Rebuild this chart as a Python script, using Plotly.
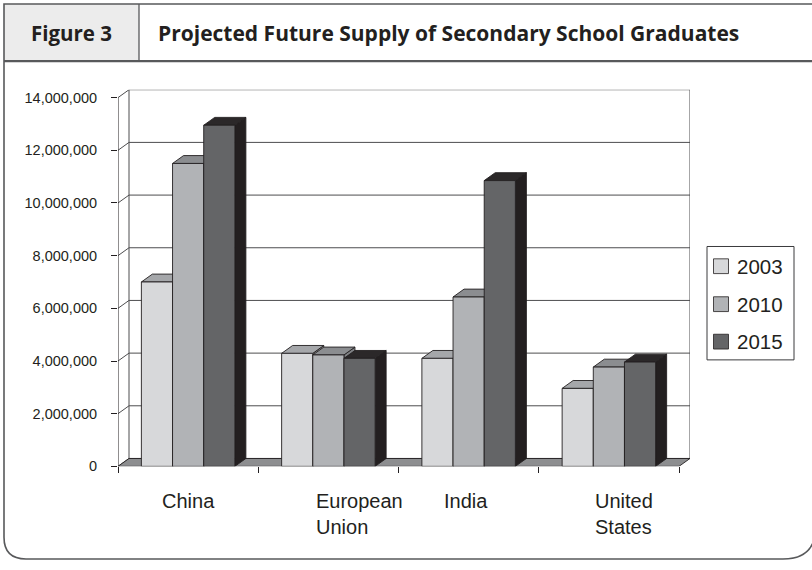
import plotly.graph_objects as go

# ---- data -------------------------------------------------------------
categories = ["China", "European Union", "India", "United States"]
category_labels = ["China", "European<br>Union", "India", "United<br>States"]
years = ["2003", "2010", "2015"]
graduates_2003 = [7_000_000, 4_290_000, 4_100_000, 2_960_000]
graduates_2010 = [11_500_000, 4_230_000, 6_430_000, 3_770_000]
graduates_2015 = [12_950_000, 4_100_000, 10_850_000, 3_960_000]
y_ticks = list(range(0, 14_000_001, 2_000_000))

series = [graduates_2003, graduates_2010, graduates_2015]

# ---- styling ----------------------------------------------------------
front_colors = ["#d7d8da", "#b1b3b6", "#646567"]
top_colors = ["#a5a7aa", "#8b8d90", "#2b2829"]
side_colors = ["#96989b", "#7e8083", "#231f20"]
edge = "#231f20"
grid = "#4d4d4f"
floor_color = "#8d8e90"
text_color = "#231f20"

W, H = 812, 570
FRONT_LEFT, FRONT_RIGHT = 118, 679   # px of the front category axis
FRONT_BASE, FRONT_TOP = 473, 99      # px of 0 and the top tick on the front axis
DEPTH_PX = (11, 8)                   # oblique depth offset (right, up)

n_cat = len(categories)
y_max = y_ticks[-1]
dx = DEPTH_PX[0] * n_cat / (FRONT_RIGHT - FRONT_LEFT)
dy = DEPTH_PX[1] * y_max / (FRONT_BASE - FRONT_TOP)

bar_w = 2 / 9
gap = (1 - len(series) * bar_w) / 2


def px(x):
    return x / W


def py(y):
    return 1 - y / H


fig = go.Figure()


def poly(xs, ys, fill, line_color=edge, width=0.9):
    fig.add_trace(go.Scatter(
        x=list(xs) + [xs[0]], y=list(ys) + [ys[0]],
        mode="lines", fill="toself", fillcolor=fill,
        line=dict(color=line_color, width=width),
        hoverinfo="skip", showlegend=False,
    ))


def segs(xs, ys, color=grid, width=1):
    fig.add_trace(go.Scatter(
        x=xs, y=ys, mode="lines",
        line=dict(color=color, width=width),
        hoverinfo="skip", showlegend=False,
    ))


# back wall: gridlines, frame and left-wall connectors
gx, gy = [], []
for v in y_ticks:
    gx += [0, dx, n_cat + dx, None]
    gy += [v, v + dy, v + dy, None]
gx += [dx, dx, None, n_cat + dx, n_cat + dx, None]
gy += [dy, y_max + dy, None, dy, y_max + dy, None]
segs(gx, gy)

# floor
poly([0, n_cat, n_cat + dx, dx], [0, 0, dy, dy], floor_color, edge, 0.9)

# bars (left to right so nearer faces overpaint)
for i in range(n_cat):
    for j, vals in enumerate(series):
        v = vals[i]
        x0 = i + gap + j * bar_w
        x1 = x0 + bar_w
        poly([x1, x1 + dx, x1 + dx, x1], [0, dy, v + dy, v], side_colors[j])
        poly([x0, x1, x1 + dx, x0 + dx], [v, v, v + dy, v + dy], top_colors[j])
        poly([x0, x1, x1, x0], [0, 0, v, v], front_colors[j])

# front value axis
segs([0, 0], [0, y_max], edge, 1)

# ---- layout -----------------------------------------------------------
x_range = [0, n_cat + dx]
y_range = [0, y_max + dy]
x_dom = [px(FRONT_LEFT), px(FRONT_RIGHT + DEPTH_PX[0])]
y_dom = [py(FRONT_BASE), py(FRONT_TOP - DEPTH_PX[1])]

fig.update_layout(
    width=W, height=H, autosize=False,
    margin=dict(l=0, r=0, t=0, b=0),
    paper_bgcolor="white", plot_bgcolor="rgba(0,0,0,0)",
    showlegend=False,
    font=dict(family="Liberation Sans, Arial, sans-serif", color=text_color),
    xaxis=dict(
        range=x_range, domain=x_dom, fixedrange=True,
        tickvals=list(range(n_cat + 1)), showticklabels=False,
        ticks="outside", ticklen=6, tickwidth=1, tickcolor=edge,
        showgrid=False, zeroline=False, showline=False,
    ),
    yaxis=dict(
        range=y_range, domain=y_dom, fixedrange=True,
        tickvals=y_ticks, tickformat=",d",
        ticks="outside", ticklen=6, tickwidth=1, tickcolor=edge,
        ticklabelstandoff=11,
        tickfont=dict(size=14.5, color=text_color),
        showgrid=False, zeroline=False, showline=False,
    ),
)

# category labels
label_pos = [(0.5, "center"), (1.4, "left"), (2.48, "center"), (3.39, "left")]
for lab, (xpos, anchor) in zip(category_labels, label_pos):
    fig.add_annotation(
        x=xpos, xref="x", y=py(495), yref="paper",
        text=lab, showarrow=False, xanchor=anchor, yanchor="top", align="left",
        font=dict(size=20, color=text_color),
    )

# legend
shapes = [dict(type="rect", xref="paper", yref="paper",
               x0=px(707), x1=px(794), y0=py(365), y1=py(250),
               line=dict(color="#3a3a3c", width=1), fillcolor="white")]
legend_y = [270, 308.5, 346.5]
for yr, col, cy in zip(years, front_colors, legend_y):
    shapes.append(dict(type="rect", xref="paper", yref="paper",
                       x0=px(713.5), x1=px(728.5), y0=py(cy + 7.5), y1=py(cy - 7.5),
                       line=dict(color=edge, width=0.8), fillcolor=col))
    fig.add_annotation(x=px(735), y=py(cy), xref="paper", yref="paper",
                       text=yr, showarrow=False, xanchor="left", yanchor="middle",
                       font=dict(size=20.5, color=text_color))

# figure frame and header
border = "#58595b"
shapes.append(dict(type="rect", xref="paper", yref="paper",
                   x0=px(4), x1=px(139), y0=py(62), y1=py(4),
                   line=dict(width=0), fillcolor="#ececec", layer="below"))
frame_path = (
    f"M {px(820)},{py(4)} L {px(4)},{py(4)} L {px(4)},{py(545)} "
    f"Q {px(4)},{py(567)} {px(26)},{py(567)} L {px(783)},{py(567)} "
    f"Q {px(815)},{py(567)} {px(816)},{py(535)}"
)
shapes.append(dict(type="path", xref="paper", yref="paper", path=frame_path,
                   line=dict(color=border, width=1.6)))
shapes.append(dict(type="line", xref="paper", yref="paper",
                   x0=px(4), x1=px(820), y0=py(62), y1=py(62),
                   line=dict(color=border, width=2.2)))
shapes.append(dict(type="line", xref="paper", yref="paper",
                   x0=px(139), x1=px(139), y0=py(4), y1=py(62),
                   line=dict(color=border, width=1.3)))
fig.update_layout(shapes=shapes)

header_font = "Open Sans, Lato, sans-serif"
fig.add_annotation(x=px(71.5), y=py(33.5), xref="paper", yref="paper",
                   text="<b>Figure 3</b>", showarrow=False,
                   xanchor="center", yanchor="middle",
                   font=dict(family=header_font, size=20.5, color="#231f20"))
fig.add_annotation(x=px(156), y=py(33.5), xref="paper", yref="paper",
                   text="<b>Projected Future Supply of Secondary School Graduates</b>",
                   showarrow=False, xanchor="left", yanchor="middle",
                   font=dict(family=header_font, size=21, color="#231f20"))

fig.write_html("out.html", config={"displayModeBar": False, "responsive": False})
